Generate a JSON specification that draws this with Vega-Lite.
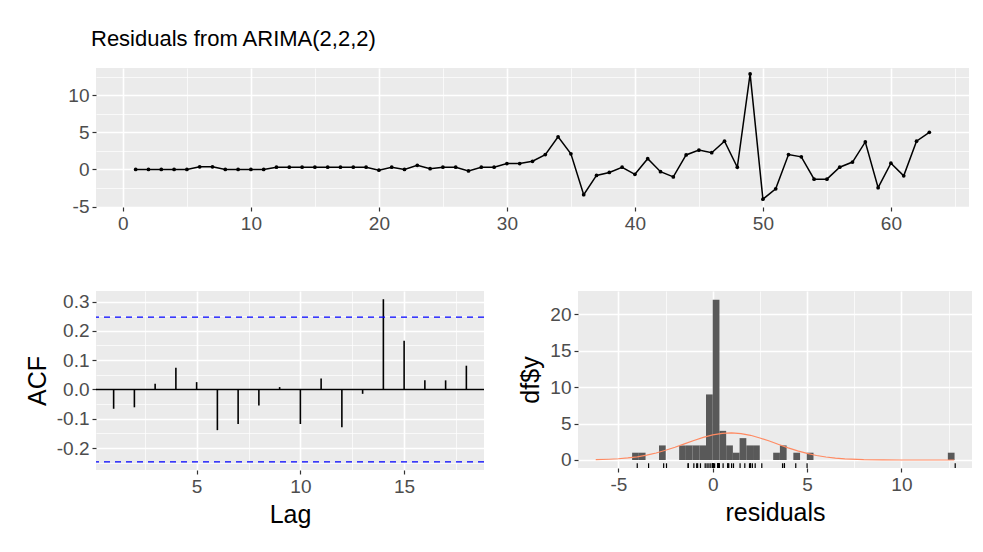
{
  "$schema": "https://vega.github.io/schema/vega-lite/v6.json",
  "background": "white",
  "padding": {"left": 25, "top": 28, "right": 12, "bottom": 8},
  "config": {
    "view": {"fill": "#EBEBEB", "stroke": null},
    "font": "Liberation Sans",
    "axis": {
      "domain": false,
      "tickColor": "#333333",
      "tickSize": 4,
      "tickWidth": 1.2,
      "labelColor": "#4D4D4D",
      "labelFont": "Liberation Sans",
      "labelFontSize": 19,
      "labelPadding": 3,
      "titleFont": "Liberation Sans",
      "titleFontSize": 25,
      "titleFontWeight": "normal",
      "titleColor": "#000000",
      "titlePadding": 6,
      "gridColor": "#FFFFFF"
    }
  },
  "datasets": {
    "resid": [
      {"t": 1, "r": 0.0}, {"t": 2, "r": 0.0}, {"t": 3, "r": 0.0}, {"t": 4, "r": 0.0}, {"t": 5, "r": 0.0},
      {"t": 6, "r": 0.35}, {"t": 7, "r": 0.35}, {"t": 8, "r": 0.0}, {"t": 9, "r": 0.0}, {"t": 10, "r": 0.0},
      {"t": 11, "r": 0.0}, {"t": 12, "r": 0.3}, {"t": 13, "r": 0.3}, {"t": 14, "r": 0.3}, {"t": 15, "r": 0.3},
      {"t": 16, "r": 0.3}, {"t": 17, "r": 0.3}, {"t": 18, "r": 0.3}, {"t": 19, "r": 0.3}, {"t": 20, "r": -0.1},
      {"t": 21, "r": 0.3}, {"t": 22, "r": 0.0}, {"t": 23, "r": 0.55}, {"t": 24, "r": 0.1}, {"t": 25, "r": 0.3},
      {"t": 26, "r": 0.3}, {"t": 27, "r": -0.2}, {"t": 28, "r": 0.3}, {"t": 29, "r": 0.3}, {"t": 30, "r": 0.8},
      {"t": 31, "r": 0.8}, {"t": 32, "r": 1.1}, {"t": 33, "r": 2.0}, {"t": 34, "r": 4.4}, {"t": 35, "r": 2.1},
      {"t": 36, "r": -3.4}, {"t": 37, "r": -0.8}, {"t": 38, "r": -0.4}, {"t": 39, "r": 0.3}, {"t": 40, "r": -0.65},
      {"t": 41, "r": 1.45}, {"t": 42, "r": -0.3}, {"t": 43, "r": -1.0}, {"t": 44, "r": 1.95}, {"t": 45, "r": 2.6},
      {"t": 46, "r": 2.25}, {"t": 47, "r": 3.8}, {"t": 48, "r": 0.3}, {"t": 49, "r": 12.85}, {"t": 50, "r": -4.0},
      {"t": 51, "r": -2.6}, {"t": 52, "r": 2.0}, {"t": 53, "r": 1.7}, {"t": 54, "r": -1.3}, {"t": 55, "r": -1.3},
      {"t": 56, "r": 0.3}, {"t": 57, "r": 1.0}, {"t": 58, "r": 3.7}, {"t": 59, "r": -2.45}, {"t": 60, "r": 0.85},
      {"t": 61, "r": -0.85}, {"t": 62, "r": 3.8}, {"t": 63, "r": 5.0}
    ],
    "acf": [
      {"lag": 1, "acf": -0.066}, {"lag": 2, "acf": -0.061}, {"lag": 3, "acf": 0.019}, {"lag": 4, "acf": 0.074},
      {"lag": 5, "acf": 0.025}, {"lag": 6, "acf": -0.139}, {"lag": 7, "acf": -0.118}, {"lag": 8, "acf": -0.055},
      {"lag": 9, "acf": 0.008}, {"lag": 10, "acf": -0.118}, {"lag": 11, "acf": 0.037}, {"lag": 12, "acf": -0.129},
      {"lag": 13, "acf": -0.015}, {"lag": 14, "acf": 0.308}, {"lag": 15, "acf": 0.166}, {"lag": 16, "acf": 0.031},
      {"lag": 17, "acf": 0.031}, {"lag": 18, "acf": 0.081}
    ],
    "ci": [{"acf": 0.247}, {"acf": -0.247}],
    "zero": [{"acf": 0}],
    "hist": [
      {"b0": -4.272, "b1": -3.916, "n": 1},
      {"b0": -3.916, "b1": -3.56, "n": 1},
      {"b0": -2.848, "b1": -2.492, "n": 2},
      {"b0": -1.78, "b1": -1.424, "n": 2},
      {"b0": -1.424, "b1": -1.068, "n": 2},
      {"b0": -1.068, "b1": -0.712, "n": 2},
      {"b0": -0.712, "b1": -0.356, "n": 2},
      {"b0": -0.356, "b1": 0.0, "n": 9},
      {"b0": 0.0, "b1": 0.356, "n": 22},
      {"b0": 0.356, "b1": 0.712, "n": 4},
      {"b0": 0.712, "b1": 1.068, "n": 2},
      {"b0": 1.068, "b1": 1.424, "n": 1},
      {"b0": 1.424, "b1": 1.78, "n": 3},
      {"b0": 1.78, "b1": 2.136, "n": 2},
      {"b0": 2.136, "b1": 2.492, "n": 2},
      {"b0": 3.204, "b1": 3.56, "n": 1},
      {"b0": 3.56, "b1": 3.916, "n": 2},
      {"b0": 4.272, "b1": 4.628, "n": 1},
      {"b0": 4.984, "b1": 5.34, "n": 1},
      {"b0": 12.46, "b1": 12.816, "n": 1}
    ],
    "normal": [
      {"x": -6.2, "y": 0.04}, {"x": -5.5, "y": 0.1}, {"x": -5.0, "y": 0.17}, {"x": -4.5, "y": 0.28},
      {"x": -4.0, "y": 0.44}, {"x": -3.5, "y": 0.67}, {"x": -3.0, "y": 0.96}, {"x": -2.5, "y": 1.33},
      {"x": -2.0, "y": 1.75}, {"x": -1.5, "y": 2.22}, {"x": -1.0, "y": 2.68}, {"x": -0.5, "y": 3.11},
      {"x": 0.0, "y": 3.45}, {"x": 0.5, "y": 3.66}, {"x": 1.0, "y": 3.73}, {"x": 1.5, "y": 3.63},
      {"x": 2.0, "y": 3.39}, {"x": 2.5, "y": 3.02}, {"x": 3.0, "y": 2.6}, {"x": 3.5, "y": 2.13},
      {"x": 4.0, "y": 1.66}, {"x": 4.5, "y": 1.25}, {"x": 5.0, "y": 0.9}, {"x": 5.5, "y": 0.62},
      {"x": 6.0, "y": 0.41}, {"x": 6.5, "y": 0.26}, {"x": 7.0, "y": 0.16}, {"x": 8.0, "y": 0.05},
      {"x": 9.0, "y": 0.01}, {"x": 10.0, "y": 0.0}, {"x": 12.8, "y": 0.0}
    ]
  },
  "spacing": 58,
  "vconcat": [
    {
      "width": 873,
      "height": 139,
      "title": {"text": "Residuals from ARIMA(2,2,2)", "anchor": "start", "frame": "group", "fontSize": 22, "fontWeight": "normal", "font": "Liberation Sans", "color": "#000000", "offset": 17, "dx": -5},
      "data": {"name": "resid"},
      "encoding": {
        "x": {"field": "t", "type": "quantitative", "scale": {"domain": [-2.1, 66.1], "nice": false, "zero": false},
          "axis": {"title": null, "values": [0, 5, 10, 15, 20, 25, 30, 35, 40, 45, 50, 55, 60, 65],
            "gridWidth": {"condition": {"test": "datum.value % 10 === 0", "value": 1.6}, "value": 0.7},
            "tickOpacity": {"condition": {"test": "datum.value % 10 === 0", "value": 1}, "value": 0},
            "labelExpr": "datum.value % 10 === 0 ? datum.label : ''"}},
        "y": {"field": "r", "type": "quantitative", "scale": {"domain": [-5.05, 13.65], "nice": false, "zero": false},
          "axis": {"title": null, "values": [-5, -2.5, 0, 2.5, 5, 7.5, 10, 12.5],
            "gridWidth": {"condition": {"test": "datum.value % 5 === 0", "value": 1.6}, "value": 0.7},
            "tickOpacity": {"condition": {"test": "datum.value % 5 === 0", "value": 1}, "value": 0},
            "labelExpr": "datum.value % 5 === 0 ? replace(format(datum.value, 'd'), '\u2212', '-') : ''"}}
      },
      "layer": [
        {"mark": {"type": "line", "color": "#000000", "strokeWidth": 1.5}},
        {"mark": {"type": "point", "filled": true, "color": "#000000", "size": 14, "opacity": 1}}
      ]
    },
    {
      "spacing": 33,
      "hconcat": [
        {
          "width": 388,
          "height": 179,
          "encoding": {
            "y": {"field": "acf", "type": "quantitative", "scale": {"domain": [-0.275, 0.336], "nice": false, "zero": false},
              "axis": {"title": "ACF", "values": [-0.25, -0.2, -0.15, -0.1, -0.05, 0, 0.05, 0.1, 0.15, 0.2, 0.25, 0.3],
                "gridWidth": {"condition": {"test": "datum.value === -0.2 || datum.value === -0.1 || datum.value === 0 || datum.value === 0.1 || datum.value === 0.2 || datum.value === 0.3", "value": 1.6}, "value": 0.7},
                "tickOpacity": {"condition": {"test": "datum.value === -0.2 || datum.value === -0.1 || datum.value === 0 || datum.value === 0.1 || datum.value === 0.2 || datum.value === 0.3", "value": 1}, "value": 0},
                "labelExpr": "datum.value === -0.2 ? '-0.2' : datum.value === -0.1 ? '-0.1' : datum.value === 0 ? '0.0' : datum.value === 0.1 ? '0.1' : datum.value === 0.2 ? '0.2' : datum.value === 0.3 ? '0.3' : ''"}}
          },
          "layer": [
            {
              "data": {"name": "acf"},
              "mark": {"type": "rule", "color": "#000000", "strokeWidth": 1.6},
              "encoding": {
                "x": {"field": "lag", "type": "quantitative", "scale": {"domain": [0.15, 18.85], "nice": false, "zero": false},
                  "axis": {"title": "Lag", "values": [2.5, 5, 7.5, 10, 12.5, 15, 17.5],
                    "gridWidth": {"condition": {"test": "datum.value % 5 === 0", "value": 1.6}, "value": 0.7},
                    "tickOpacity": {"condition": {"test": "datum.value % 5 === 0", "value": 1}, "value": 0},
                    "labelExpr": "datum.value % 5 === 0 ? datum.label : ''"}},
                "y2": {"datum": 0}
              }
            },
            {
              "data": {"name": "zero"},
              "mark": {"type": "rule", "color": "#000000", "strokeWidth": 1.6}
            },
            {
              "data": {"name": "ci"},
              "mark": {"type": "rule", "color": "#0000FF", "strokeWidth": 1.3, "strokeDash": [6, 5]}
            }
          ]
        },
        {
          "width": 394,
          "height": 177,
          "layer": [
            {
              "data": {"name": "hist"},
              "mark": {"type": "rect", "color": "#595959"},
              "encoding": {
                "x": {"field": "b0", "type": "quantitative", "scale": {"domain": [-7.14, 13.74], "nice": false, "zero": false},
                  "axis": {"title": "residuals", "values": [-5, -2.5, 0, 2.5, 5, 7.5, 10, 12.5],
                    "gridWidth": {"condition": {"test": "datum.value % 5 === 0", "value": 1.6}, "value": 0.7},
                    "tickOpacity": {"condition": {"test": "datum.value % 5 === 0", "value": 1}, "value": 0},
                    "labelExpr": "datum.value % 5 === 0 ? replace(format(datum.value, 'd'), '\u2212', '-') : ''"}},
                "x2": {"field": "b1"},
                "y": {"field": "n", "type": "quantitative", "scale": {"domain": [-1.1, 23.2], "nice": false, "zero": false},
                  "axis": {"title": "df$y", "values": [0, 2.5, 5, 7.5, 10, 12.5, 15, 17.5, 20, 22.5],
                    "gridWidth": {"condition": {"test": "datum.value % 5 === 0", "value": 1.6}, "value": 0.7},
                    "tickOpacity": {"condition": {"test": "datum.value % 5 === 0", "value": 1}, "value": 0},
                    "labelExpr": "datum.value % 5 === 0 ? datum.label : ''"}},
                "y2": {"datum": 0}
              }
            },
            {
              "data": {"name": "normal"},
              "mark": {"type": "line", "color": "#FF8A62", "strokeWidth": 1.2},
              "encoding": {
                "x": {"field": "x", "type": "quantitative"},
                "y": {"field": "y", "type": "quantitative"}
              }
            },
            {
              "data": {"name": "resid"},
              "mark": {"type": "rule", "color": "#000000", "strokeWidth": 1.2},
              "encoding": {
                "x": {"field": "r", "type": "quantitative"},
                "y": {"datum": -1.1},
                "y2": {"datum": -0.45}
              }
            }
          ]
        }
      ]
    }
  ]
}
